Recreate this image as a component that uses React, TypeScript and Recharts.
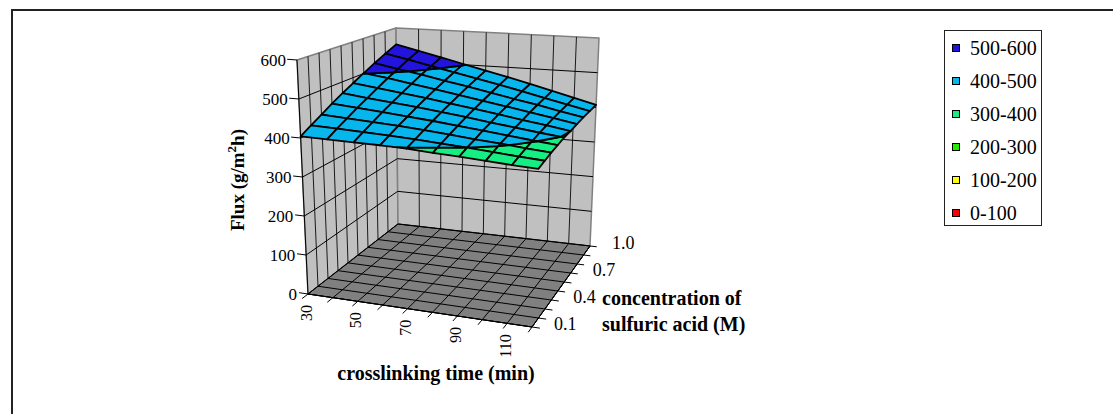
import React from 'react';
import { ScatterChart, Scatter, XAxis, YAxis } from 'recharts';

// crosslinking time (min) along the front, acid concentration (M) going back
const times = [30, 40, 50, 60, 70, 80, 90, 100, 110, 120];
const timeLabels = ['30', '', '50', '', '70', '', '90', '', '110', ''];
const concentrations = [0.1, 0.2, 0.3, 0.4, 0.5, 0.6, 0.7, 0.8, 0.9, 1.0];
const concLabels = ['0.1', '', '', '0.4', '', '', '0.7', '', '', '1.0'];
const fluxTicks = [0, 100, 200, 300, 400, 500, 600];

// flux (g/m2h) per concentration row, one value per crosslinking time
const flux01 = [404, 403, 402, 401, 399, 395, 392, 388, 384, 381];
const flux02 = [420, 418, 415, 412, 409, 404, 400, 395, 390, 386];
const flux03 = [436, 432, 428, 424, 419, 413, 407, 402, 396, 391];
const flux04 = [453, 447, 441, 435, 429, 422, 415, 408, 401, 395];
const flux05 = [469, 461, 454, 447, 439, 431, 422, 414, 406, 399];
const flux06 = [485, 476, 467, 458, 448, 439, 429, 419, 410, 400];
const flux07 = [501, 491, 480, 469, 458, 447, 436, 425, 414, 403];
const flux08 = [518, 505, 493, 480, 468, 455, 442, 430, 417, 405];
const flux09 = [534, 520, 505, 491, 477, 463, 449, 434, 420, 406];
const flux10 = [550, 534, 518, 502, 486, 471, 455, 439, 423, 407];
const fluxRows = [flux01, flux02, flux03, flux04, flux05, flux06, flux07, flux08, flux09, flux10];

const bandEdges = [0, 100, 200, 300, 400, 500, 600];
const bandColors = ['#ff0000', '#ffff00', '#22ee00', '#14ee82', '#06b6ec', '#2214dc'];
const bandLabels = ['0-100', '100-200', '200-300', '300-400', '400-500', '500-600'];

const W = 1113;
const H = 414;
const SERIF = '"Liberation Serif", "Times New Roman", serif';
const FMAX = 600;

// box corners on screen: floor (f..) and top (t..) at u=time, v=concentration
const BOX = {
  f00: [308, 294], t00: [297, 60],
  f10: [532, 327], t10: [542, 78],
  f01: [398, 224], t01: [396, 28],
  f11: [590, 246], t11: [599, 38],
};

const bil = (a: number[], b: number[], c: number[], d: number[], u: number, v: number, k: number) =>
  (1 - u) * (1 - v) * a[k] + u * (1 - v) * b[k] + (1 - u) * v * c[k] + u * v * d[k];

function project(u: number, v: number, f: number) {
  const w = f / FMAX;
  const fx = bil(BOX.f00, BOX.f10, BOX.f01, BOX.f11, u, v, 0);
  const fy = bil(BOX.f00, BOX.f10, BOX.f01, BOX.f11, u, v, 1);
  const tx = bil(BOX.t00, BOX.t10, BOX.t01, BOX.t11, u, v, 0);
  const ty = bil(BOX.t00, BOX.t10, BOX.t01, BOX.t11, u, v, 1);
  return { x: fx + w * (tx - fx), y: fy + w * (ty - fy) };
}

const U = (i: number) => (times[i] - times[0]) / (times[times.length - 1] - times[0]);
const V = (j: number) =>
  (concentrations[j] - concentrations[0]) / (concentrations[concentrations.length - 1] - concentrations[0]);

type P3 = { u: number; v: number; f: number };
type Poly = { pts: { x: number; y: number }[]; fill: string; stroke: string; sw: number; closed: boolean };

function clip(poly: P3[], level: number, above: boolean): P3[] {
  const out: P3[] = [];
  for (let k = 0; k < poly.length; k++) {
    const a = poly[k];
    const b = poly[(k + 1) % poly.length];
    const ina = above ? a.f >= level : a.f <= level;
    const inb = above ? b.f >= level : b.f <= level;
    if (ina) out.push(a);
    if (ina !== inb) {
      const t = (level - a.f) / (b.f - a.f);
      out.push({ u: a.u + t * (b.u - a.u), v: a.v + t * (b.v - a.v), f: level });
    }
  }
  return out;
}

const seg = (a: P3, b: P3, stroke: string, sw: number): Poly => ({
  pts: [project(a.u, a.v, a.f), project(b.u, b.v, b.f)],
  fill: 'none',
  stroke,
  sw,
  closed: false,
});

const quad = (c: P3[], fill: string, stroke: string, sw: number): Poly => ({
  pts: c.map((p) => project(p.u, p.v, p.f)),
  fill,
  stroke,
  sw,
  closed: true,
});

// walls and their gridlines
const wallPolys: Poly[] = [
  quad([{ u: 0, v: 0, f: 0 }, { u: 0, v: 1, f: 0 }, { u: 0, v: 1, f: FMAX }, { u: 0, v: 0, f: FMAX }], '#c0c0c0', '#808080', 1.5),
  quad([{ u: 0, v: 1, f: 0 }, { u: 1, v: 1, f: 0 }, { u: 1, v: 1, f: FMAX }, { u: 0, v: 1, f: FMAX }], '#c0c0c0', '#808080', 1.5),
];
concentrations.forEach((_, j) => {
  if (j > 0 && j < concentrations.length - 1)
    wallPolys.push(seg({ u: 0, v: V(j), f: 0 }, { u: 0, v: V(j), f: FMAX }, '#1a1a1a', 1));
});
times.forEach((_, i) => {
  if (i > 0 && i < times.length - 1)
    wallPolys.push(seg({ u: U(i), v: 1, f: 0 }, { u: U(i), v: 1, f: FMAX }, '#1a1a1a', 1));
});
fluxTicks.forEach((f) => {
  if (f > 0 && f < FMAX) {
    wallPolys.push(seg({ u: 0, v: 0, f }, { u: 0, v: 1, f }, '#000', 1));
    wallPolys.push(seg({ u: 0, v: 1, f }, { u: 1, v: 1, f }, '#000', 1));
  }
});

// floor
const floorPolys: Poly[] = [
  quad([{ u: 0, v: 0, f: 0 }, { u: 1, v: 0, f: 0 }, { u: 1, v: 1, f: 0 }, { u: 0, v: 1, f: 0 }], '#808080', '#000', 1),
];
times.forEach((_, i) => floorPolys.push(seg({ u: U(i), v: 0, f: 0 }, { u: U(i), v: 1, f: 0 }, '#000', 1)));
concentrations.forEach((_, j) => floorPolys.push(seg({ u: 0, v: V(j), f: 0 }, { u: 1, v: V(j), f: 0 }, '#000', 1)));

// surface cells split into colour bands, far cells first
const cells: { c: P3[]; depth: number }[] = [];
for (let j = 0; j < concentrations.length - 1; j++) {
  for (let i = 0; i < times.length - 1; i++) {
    const c: P3[] = [
      { u: U(i), v: V(j), f: fluxRows[j][i] },
      { u: U(i + 1), v: V(j), f: fluxRows[j][i + 1] },
      { u: U(i + 1), v: V(j + 1), f: fluxRows[j + 1][i + 1] },
      { u: U(i), v: V(j + 1), f: fluxRows[j + 1][i] },
    ];
    cells.push({ c, depth: project((U(i) + U(i + 1)) / 2, (V(j) + V(j + 1)) / 2, 0).y });
  }
}
cells.sort((a, b) => a.depth - b.depth);
const surfacePolys: Poly[] = [];
cells.forEach((cell) => {
  bandColors.forEach((color, b) => {
    const piece = clip(clip(cell.c, bandEdges[b], true), bandEdges[b + 1], false);
    if (piece.length >= 3) surfacePolys.push(quad(piece, color, '#000', 1.8));
  });
});

// axis lines and tick marks
const axisPolys: Poly[] = [
  seg({ u: 0, v: 0, f: 0 }, { u: 0, v: 0, f: FMAX }, '#000', 1),
  seg({ u: 0, v: 0, f: 0 }, { u: 1, v: 0, f: 0 }, '#000', 1),
  seg({ u: 1, v: 0, f: 0 }, { u: 1, v: 1, f: 0 }, '#000', 1),
];
fluxTicks.forEach((f) => axisPolys.push(seg({ u: 0, v: 0, f }, { u: -0.04, v: 0, f }, '#000', 1)));
times.forEach((_, i) => axisPolys.push(seg({ u: U(i), v: 0, f: 0 }, { u: U(i), v: -0.065, f: 0 }, '#000', 1)));
concentrations.forEach((_, j) => axisPolys.push(seg({ u: 1, v: V(j), f: 0 }, { u: 1.035, v: V(j), f: 0 }, '#000', 1)));

const layerData = (polys: Poly[]) => polys.flatMap((p) => p.pts);

const drawPolys = (polys: Poly[]) => (props: any) => {
  const pts = props.points || [];
  let k = 0;
  return (
    <g>
      {polys.map((p, idx) => {
        const s = pts.slice(k, k + p.pts.length);
        k += p.pts.length;
        const d = 'M' + s.map((q: any) => `${q.x},${q.y}`).join('L') + (p.closed ? 'Z' : '');
        return (
          <path key={idx} d={d} fill={p.fill} stroke={p.stroke} strokeWidth={p.sw} strokeLinejoin="round" />
        );
      })}
    </g>
  );
};

const polyLayer = (name: string, polys: Poly[]) => (
  <Scatter
    key={name}
    name={name}
    data={layerData(polys)}
    isAnimationActive={false}
    legendType="none"
    shape={() => <g />}
    line={drawPolys(polys)}
    lineType="joint"
  />
);

const fluxLabelData = fluxTicks.map((f) => ({ ...project(0, 0, f), label: String(f) }));
const timeLabelData = times
  .map((_, i) => ({ ...project(U(i), 0, 0), label: timeLabels[i] }))
  .filter((d) => d.label);
const concLabelData = concentrations
  .map((_, j) => ({ ...project(1, V(j), 0), label: concLabels[j] }))
  .filter((d) => d.label);

const App = () => (
  <div
    style={{
      position: 'fixed',
      left: 0,
      top: 0,
      width: W,
      height: H,
      overflow: 'hidden',
      background: '#fff',
      fontFamily: SERIF,
    }}
  >
    <div
      style={{
        position: 'absolute',
        left: 11,
        top: 9,
        width: 1200,
        height: 500,
        border: '2px solid #222',
      }}
    />
    <div style={{ position: 'absolute', left: 0, top: 0 }}>
      <ScatterChart width={W} height={H} margin={{ top: 0, right: 0, bottom: 0, left: 0 }}>
        <XAxis type="number" dataKey="x" domain={[0, W]} hide allowDataOverflow />
        <YAxis type="number" dataKey="y" domain={[0, H]} reversed hide allowDataOverflow />
        {polyLayer('walls', wallPolys)}
        {polyLayer('floor', floorPolys)}
        {polyLayer('surface', surfacePolys)}
        {polyLayer('axes', axisPolys)}
        <Scatter
          name="fluxLabels"
          data={fluxLabelData}
          isAnimationActive={false}
          legendType="none"
          shape={(p: any) => (
            <text x={p.cx - 11} y={p.cy} textAnchor="end" dominantBaseline="central" fontSize={17} fontFamily={SERIF} fill="#000">
              {p.payload.label}
            </text>
          )}
        />
        <Scatter
          name="timeLabels"
          data={timeLabelData}
          isAnimationActive={false}
          legendType="none"
          shape={(p: any) => (
            <text
              x={p.cx - 2}
              y={p.cy + 11}
              transform={`rotate(-90 ${p.cx - 2} ${p.cy + 11})`}
              textAnchor="end"
              dominantBaseline="central"
              fontSize={16}
              fontFamily={SERIF}
              fill="#000"
            >
              {p.payload.label}
            </text>
          )}
        />
        <Scatter
          name="concLabels"
          data={concLabelData}
          isAnimationActive={false}
          legendType="none"
          shape={(p: any) => (
            <text x={p.cx + 22} y={p.cy - 3} textAnchor="start" dominantBaseline="central" fontSize={18} fontFamily={SERIF} fill="#000">
              {p.payload.label}
            </text>
          )}
        />
      </ScatterChart>
    </div>
    <svg width={W} height={H} style={{ position: 'absolute', left: 0, top: 0, pointerEvents: 'none' }}>
      <text
        x={244}
        y={180}
        transform="rotate(-90 244 180)"
        textAnchor="middle"
        fontSize={19}
        fontWeight="bold"
        fontFamily={SERIF}
        fill="#000"
      >
        Flux (g/m
        <tspan dy={-8} fontSize={13}>2</tspan>
        <tspan dy={8}>h)</tspan>
      </text>
      <text x={436} y={380} textAnchor="middle" fontSize={20} fontWeight="bold" fontFamily={SERIF} fill="#000">
        crosslinking time (min)
      </text>
      <text x={602} y={305} fontSize={20} fontWeight="bold" fontFamily={SERIF} fill="#000">
        concentration of
      </text>
      <text x={602} y={331} fontSize={20} fontWeight="bold" fontFamily={SERIF} fill="#000">
        sulfuric acid (M)
      </text>
    </svg>
    <div
      style={{
        position: 'absolute',
        left: 944,
        top: 30,
        width: 96,
        height: 194,
        border: '1.5px solid #222',
        background: '#fff',
      }}
    >
      {[...bandLabels].reverse().map((label, k) => (
        <div
          key={label}
          style={{
            position: 'absolute',
            left: 7,
            top: 4 + k * 33,
            height: 26,
            display: 'flex',
            alignItems: 'center',
            fontSize: 20,
            whiteSpace: 'nowrap',
          }}
        >
          <span
            style={{
              display: 'inline-block',
              width: 6,
              height: 6,
              border: '1px solid #000',
              background: bandColors[bandColors.length - 1 - k],
              marginRight: 10,
            }}
          />
          {label}
        </div>
      ))}
    </div>
  </div>
);

export default App;
